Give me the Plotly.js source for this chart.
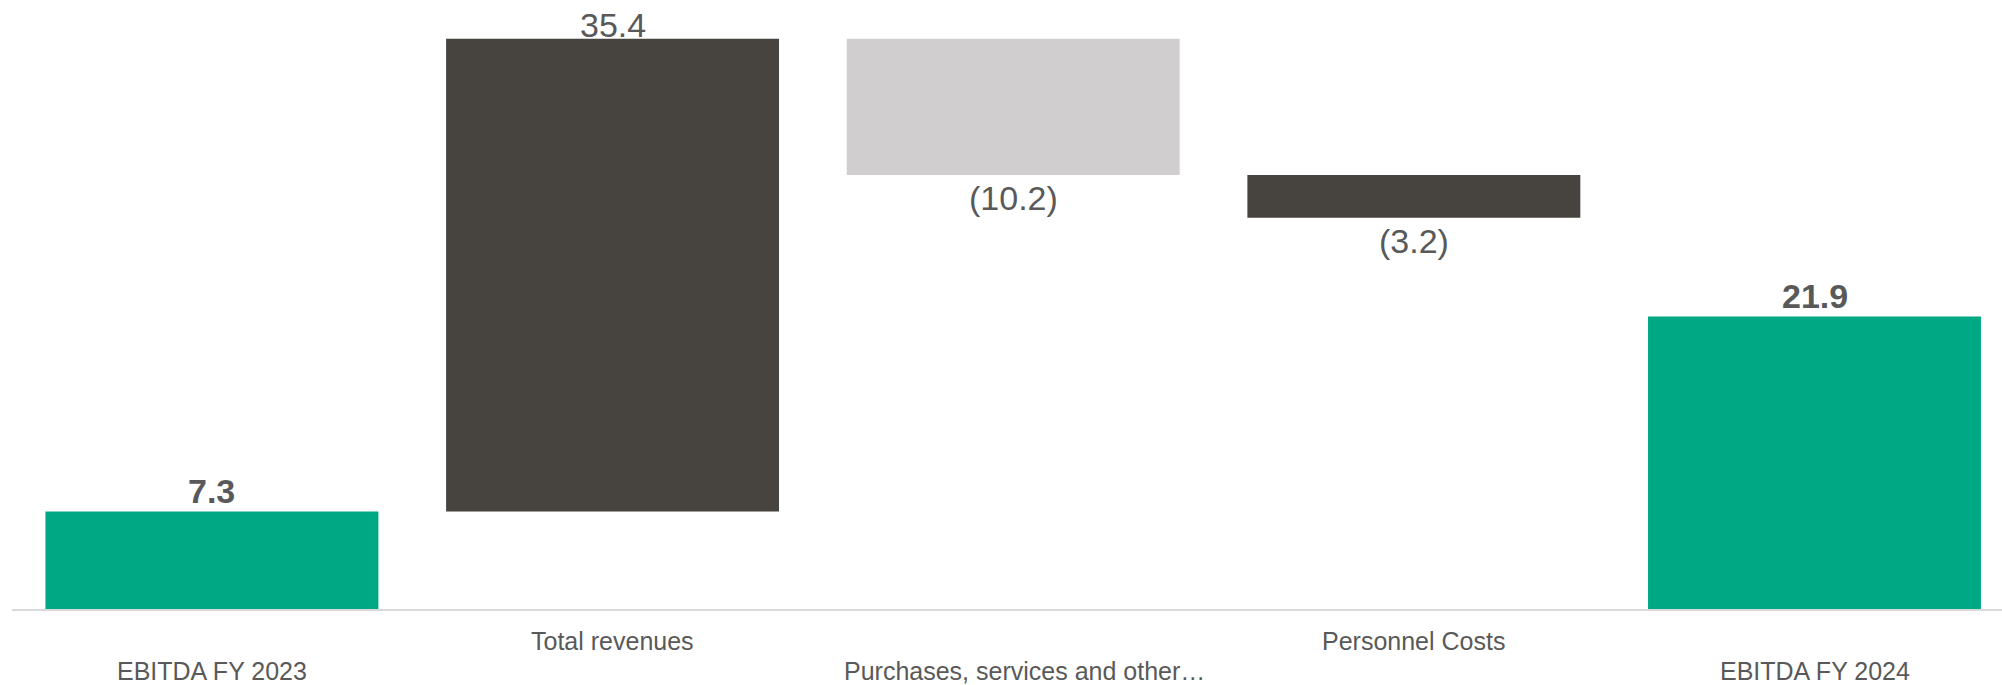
<!DOCTYPE html>
<html>
<head>
<meta charset="utf-8">
<script src="https://cdn.plot.ly/plotly-3.0.1.min.js"></script>
<style>
  html, body { margin: 0; padding: 0; background: #ffffff; }
  #chart { width: 2002px; height: 685px; }
</style>
</head>
<body>
<div id="chart"></div>
<script>
// ---- Data ----
const categories = [
  "EBITDA FY 2023",
  "Total revenues",
  "Purchases, services and other…",
  "Personnel Costs",
  "EBITDA FY 2024"
];
const values = [7.3, 35.4, -10.2, -3.2, 21.9];
const measures = ["total", "step", "step", "step", "total"];

// ---- Styles ----
const GREEN = "#00A884";
const DARK = "#47433E";
const LIGHT = "#D0CECE";
const TEXT = "#595959";
const FONT = "Liberation Sans, Arial, sans-serif";

// ---- Build waterfall geometry from data ----
const bases = [], lengths = [], colors = [];
let running = 0;
let stepCount = 0;
values.forEach((v, i) => {
  if (measures[i] === "total") {
    bases.push(0); lengths.push(v); running = v;
    colors.push(GREEN);
  } else {
    const b = v >= 0 ? running : running + v;
    bases.push(b); lengths.push(Math.abs(v)); running += v;
    colors.push(v < 0 && stepCount === 1 ? LIGHT : DARK);
    stepCount++;
  }
});

const annotations = [];
values.forEach((v, i) => {
  const isTotal = measures[i] === "total";
  const txt = v < 0 ? "(" + Math.abs(v).toFixed(1) + ")" : v.toFixed(1);
  const top = bases[i] + lengths[i];
  annotations.push({
    x: categories[i], xref: "x",
    y: v >= 0 ? top : bases[i], yref: "y",
    text: isTotal ? "<b>" + txt + "</b>" : txt,
    showarrow: false,
    xanchor: "center", yanchor: "middle",
    yshift: v >= 0 ? (isTotal ? 21 : 14) : -23,
    font: { family: FONT, size: 34, color: TEXT }
  });
  const truncated = categories[i].endsWith("…");
  annotations.push({
    x: categories[i], xref: "x",
    y: 0, yref: "paper",
    text: categories[i],
    showarrow: false,
    xanchor: "center", yanchor: "middle",
    xshift: truncated ? 11 : 0,
    yshift: i % 2 === 1 ? -32 : -62,
    font: { family: FONT, size: 25, color: TEXT }
  });
});

const trace = {
  type: "bar",
  x: categories,
  y: lengths,
  base: bases,
  width: 0.831,
  marker: { color: colors, line: { width: 0 } },
  hoverinfo: "skip",
  showlegend: false
};

const layout = {
  width: 2002, height: 685,
  margin: { l: 12, r: 0, t: 8, b: 76, pad: 0 },
  paper_bgcolor: "#ffffff",
  plot_bgcolor: "#ffffff",
  showlegend: false,
  xaxis: {
    type: "category",
    range: [-0.499, 4.468],
    showline: true, linecolor: "#d9d9d9", linewidth: 1.5,
    showgrid: false, zeroline: false,
    showticklabels: false, ticks: "",
    fixedrange: true
  },
  yaxis: {
    range: [0, 45],
    visible: false,
    showgrid: false, zeroline: false,
    fixedrange: true
  },
  annotations: annotations
};

Plotly.newPlot("chart", [trace], layout, { displayModeBar: false, staticPlot: true });
</script>
</body>
</html>
